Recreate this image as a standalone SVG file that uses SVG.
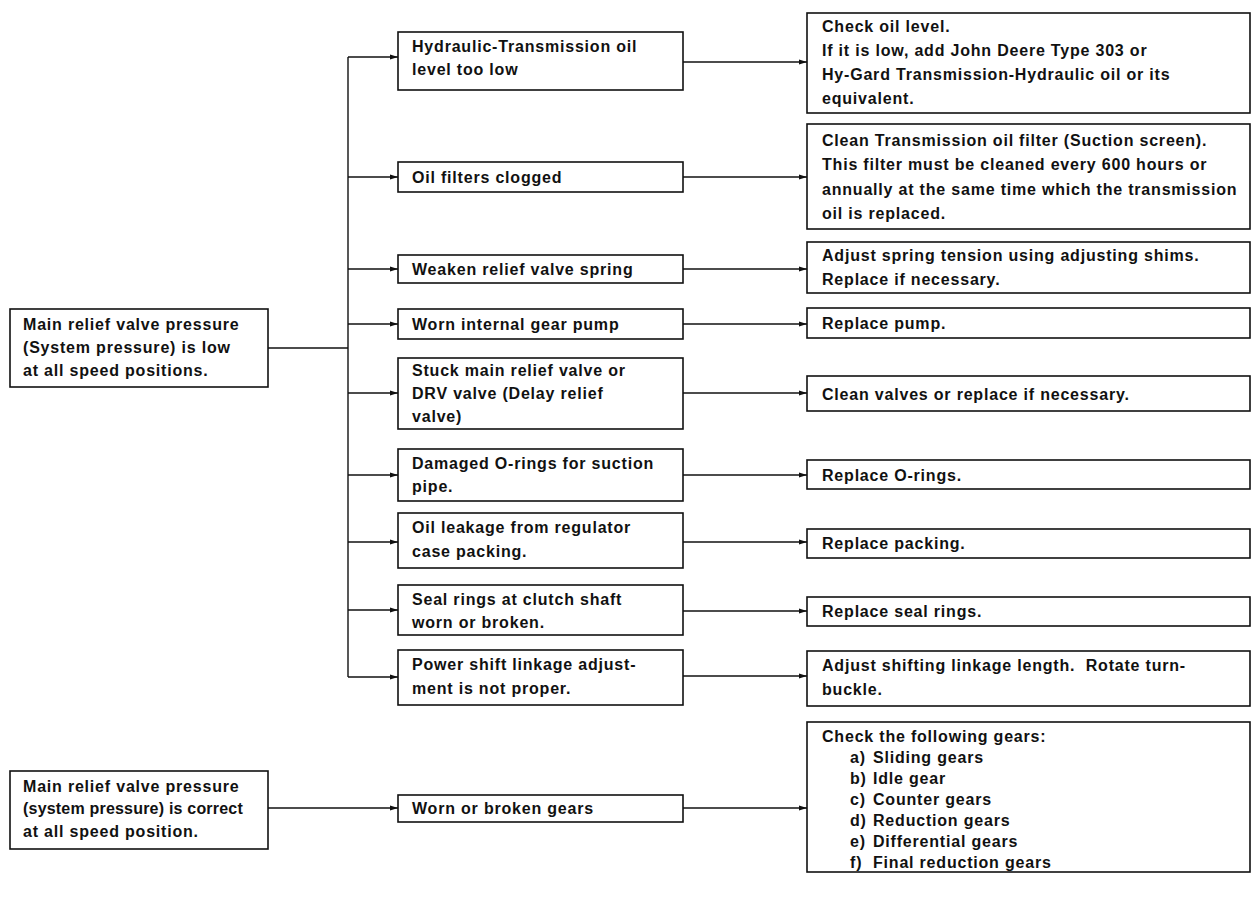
<svg xmlns="http://www.w3.org/2000/svg" width="1257" height="897" viewBox="0 0 1257 897">
<defs>
<marker id="ah" markerWidth="8" markerHeight="6" refX="8" refY="3" orient="auto" markerUnits="userSpaceOnUse">
<path d="M0,0.5 L8,3 L0,5.5 Z" fill="#111"/>
</marker>
</defs>
<style>
rect{fill:#fff;stroke:#111;stroke-width:1.6}
text{font-family:"Liberation Sans",Arial,sans-serif;font-size:16px;font-weight:bold;fill:#111;letter-spacing:0.8px}
.t{letter-spacing:0.2px}
.c line{stroke:#111;stroke-width:1.4;fill:none}
.a{marker-end:url(#ah)}
</style>
<rect x="0" y="0" width="1257" height="897" style="stroke:none;fill:#fff"/>
<g class="c" id="connectors">
<line x1="268" y1="348" x2="348" y2="348"/>
<line x1="348" y1="57" x2="348" y2="677"/>
<line class="a" x1="348" y1="57" x2="398" y2="57"/>
<line class="a" x1="348" y1="177" x2="398" y2="177"/>
<line class="a" x1="348" y1="269" x2="398" y2="269"/>
<line class="a" x1="348" y1="324" x2="398" y2="324"/>
<line class="a" x1="348" y1="393" x2="398" y2="393"/>
<line class="a" x1="348" y1="475" x2="398" y2="475"/>
<line class="a" x1="348" y1="542" x2="398" y2="542"/>
<line class="a" x1="348" y1="610" x2="398" y2="610"/>
<line class="a" x1="348" y1="677" x2="398" y2="677"/>
<line class="a" x1="268" y1="808" x2="398" y2="808"/>
<line class="a" x1="683" y1="62" x2="807" y2="62"/>
<line class="a" x1="683" y1="177" x2="807" y2="177"/>
<line class="a" x1="683" y1="269" x2="807" y2="269"/>
<line class="a" x1="683" y1="324" x2="807" y2="324"/>
<line class="a" x1="683" y1="393" x2="807" y2="393"/>
<line class="a" x1="683" y1="475" x2="807" y2="475"/>
<line class="a" x1="683" y1="542" x2="807" y2="542"/>
<line class="a" x1="683" y1="611" x2="807" y2="611"/>
<line class="a" x1="683" y1="676" x2="807" y2="676"/>
<line class="a" x1="683" y1="808" x2="807" y2="808"/>
</g>
<g id="start-low">
<rect x="10" y="309" width="258" height="78"/>
<text x="23" y="330">Main relief valve pressure</text>
<text x="23" y="353">(System pressure) is low</text>
<text x="23" y="376">at all speed positions.</text>
</g>
<g id="start-correct">
<rect x="10" y="771" width="258" height="78"/>
<text x="23" y="792">Main relief valve pressure</text>
<text x="23" y="814" class="t">(system pressure) is correct</text>
<text x="23" y="837">at all speed position.</text>
</g>
<g id="m1"><rect x="398" y="32" width="285" height="58"/>
<text x="412" y="52">Hydraulic-Transmission oil</text><text x="412" y="75">level too low</text></g>
<g id="m2"><rect x="398" y="162" width="285" height="30"/><text x="412" y="183">Oil filters clogged</text></g>
<g id="m3"><rect x="398" y="255" width="285" height="28"/><text x="412" y="275">Weaken relief valve spring</text></g>
<g id="m4"><rect x="398" y="309" width="285" height="30"/><text x="412" y="330">Worn internal gear pump</text></g>
<g id="m5"><rect x="398" y="358" width="285" height="71"/>
<text x="412" y="376">Stuck main relief valve or</text><text x="412" y="399">DRV valve (Delay relief</text><text x="412" y="422">valve)</text></g>
<g id="m6"><rect x="398" y="449" width="285" height="52"/>
<text x="412" y="469">Damaged O-rings for suction</text><text x="412" y="492">pipe.</text></g>
<g id="m7"><rect x="398" y="513" width="285" height="55"/>
<text x="412" y="533">Oil leakage from regulator</text><text x="412" y="557">case packing.</text></g>
<g id="m8"><rect x="398" y="585" width="285" height="50"/>
<text x="412" y="605">Seal rings at clutch shaft</text><text x="412" y="628">worn or broken.</text></g>
<g id="m9"><rect x="398" y="650" width="285" height="55"/>
<text x="412" y="670">Power shift linkage adjust-</text><text x="412" y="694">ment is not proper.</text></g>
<g id="m10"><rect x="398" y="795" width="285" height="27"/><text x="412" y="814">Worn or broken gears</text></g>
<g id="r1"><rect x="807" y="13" width="443" height="100"/>
<text x="822" y="32">Check oil level.</text>
<text x="822" y="56">If it is low, add John Deere Type 303 or</text>
<text x="822" y="80">Hy-Gard Transmission-Hydraulic oil or its</text>
<text x="822" y="104">equivalent.</text></g>
<g id="r2"><rect x="807" y="124" width="443" height="105"/>
<text x="822" y="146">Clean Transmission oil filter (Suction screen).</text>
<text x="822" y="170">This filter must be cleaned every 600 hours or</text>
<text x="822" y="195">annually at the same time which the transmission</text>
<text x="822" y="219">oil is replaced.</text></g>
<g id="r3"><rect x="807" y="242" width="443" height="51"/>
<text x="822" y="261">Adjust spring tension using adjusting shims.</text>
<text x="822" y="285">Replace if necessary.</text></g>
<g id="r4"><rect x="807" y="308" width="443" height="30"/><text x="822" y="329">Replace pump.</text></g>
<g id="r5"><rect x="807" y="376" width="443" height="35"/><text x="822" y="400">Clean valves or replace if necessary.</text></g>
<g id="r6"><rect x="807" y="460" width="443" height="29"/><text x="822" y="481">Replace O-rings.</text></g>
<g id="r7"><rect x="807" y="529" width="443" height="29"/><text x="822" y="549">Replace packing.</text></g>
<g id="r8"><rect x="807" y="597" width="443" height="29"/><text x="822" y="617">Replace seal rings.</text></g>
<g id="r9"><rect x="807" y="651" width="443" height="55"/>
<text x="822" y="671" xml:space="preserve">Adjust shifting linkage length.  Rotate turn-</text>
<text x="822" y="695">buckle.</text></g>
<g id="r10"><rect x="807" y="722" width="443" height="150"/>
<text x="822" y="742">Check the following gears:</text>
<text x="850" y="763">a)</text><text x="873" y="763">Sliding gears</text>
<text x="850" y="784">b)</text><text x="873" y="784">Idle gear</text>
<text x="850" y="805">c)</text><text x="873" y="805">Counter gears</text>
<text x="850" y="826">d)</text><text x="873" y="826">Reduction gears</text>
<text x="850" y="847">e)</text><text x="873" y="847">Differential gears</text>
<text x="850" y="868">f)</text><text x="873" y="868">Final reduction gears</text></g>
</svg>
